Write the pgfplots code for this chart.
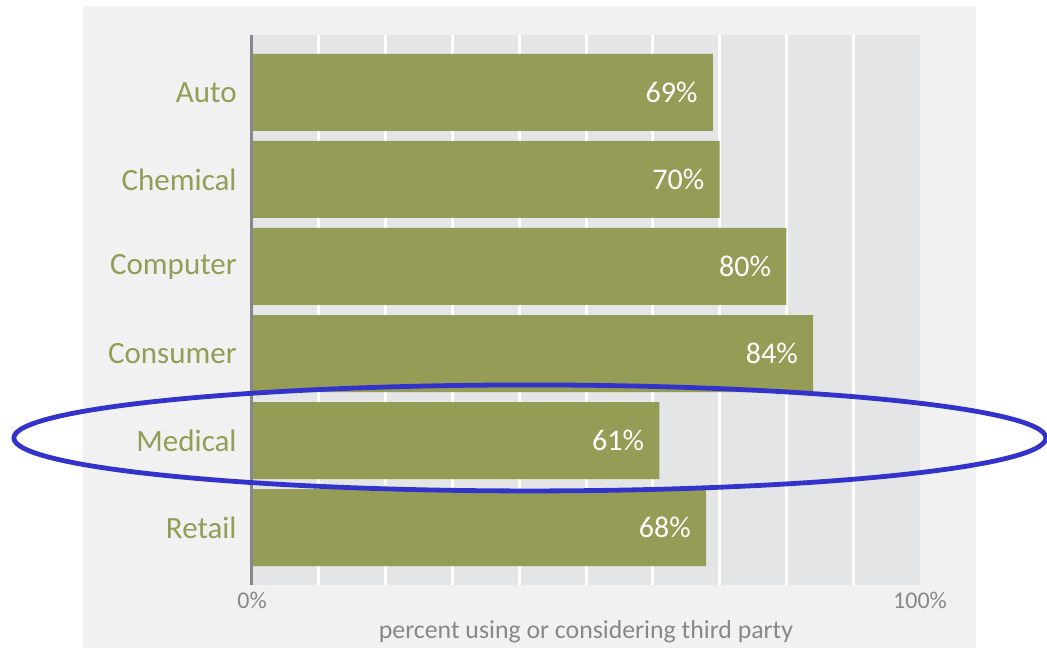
\documentclass[border=0pt]{standalone}
\usepackage{fontspec}
\setmainfont{Carlito}
\usepackage{pgfplots}
\pgfplotsset{compat=1.18}
\definecolor{panel}{HTML}{F1F1F1}
\definecolor{plotbg}{HTML}{E4E5E7}
\definecolor{olive}{HTML}{949C56}
\definecolor{axgray}{HTML}{88888C}
\definecolor{ringblue}{HTML}{3333CC}
\begin{document}
\begin{tikzpicture}[x=1pt,y=1pt]
\useasboundingbox (-126,-31.5) rectangle (397.5,292.5);
\fill[white] (-126,-31.5) rectangle (397.5,292.5);
\fill[panel] (-84.5,-31.5) rectangle (362,289.5);
\begin{axis}[
 at={(0,0)}, anchor=south west,
 width=334pt, height=275pt, scale only axis,
 xmin=0, xmax=100, ymin=-0.66, ymax=5.66, y dir=reverse,
 xbar, bar width=38.5pt,
 /pgf/number format/assume math mode=true,
 axis background/.style={fill=plotbg},
 axis line style={draw=none},
 xtick={0,100}, xticklabels={0\%,100\%},
 minor xtick={10,20,...,90},
 xmajorgrids=false, xminorgrids,
 minor grid style={white, line width=1.5pt},
 major tick length=0pt, minor tick length=0pt,
 ytick={0,...,5}, yticklabels={Auto,Chemical,Computer,Consumer,Medical,Retail},
 yticklabel style={font=\fontsize{15.5}{18}\selectfont, text=olive, inner sep=0pt, xshift=-7.5pt},
 xticklabel style={font=\fontsize{12}{14}\selectfont, text=axgray, inner sep=0pt, yshift=-3.5pt},
 xlabel={percent using or considering third party},
 xlabel style={font=\fontsize{12.9}{15}\selectfont, text=axgray, at={(axis description cs:0.5,0)}, anchor=center, yshift=-23.5pt},
 nodes near coords={\pgfmathprintnumber{\pgfplotspointmeta}\%},
 every node near coord/.append style={anchor=east, inner sep=0pt, xshift=-7.5pt, text=white, font=\fontsize{15}{18}\selectfont},
 clip=false,
]
\addplot[fill=olive, draw=none] coordinates {(69,0) (70,1) (80,2) (84,3) (61,4) (68,5)};
\draw[axgray, line width=1.5pt] (rel axis cs:0,0) -- (rel axis cs:0,1);
\draw[ringblue, line width=2.4pt] (axis cs:41.6,3.97) ellipse [x radius=258pt, y radius=26.5pt];
\end{axis}
\end{tikzpicture}
\end{document}
